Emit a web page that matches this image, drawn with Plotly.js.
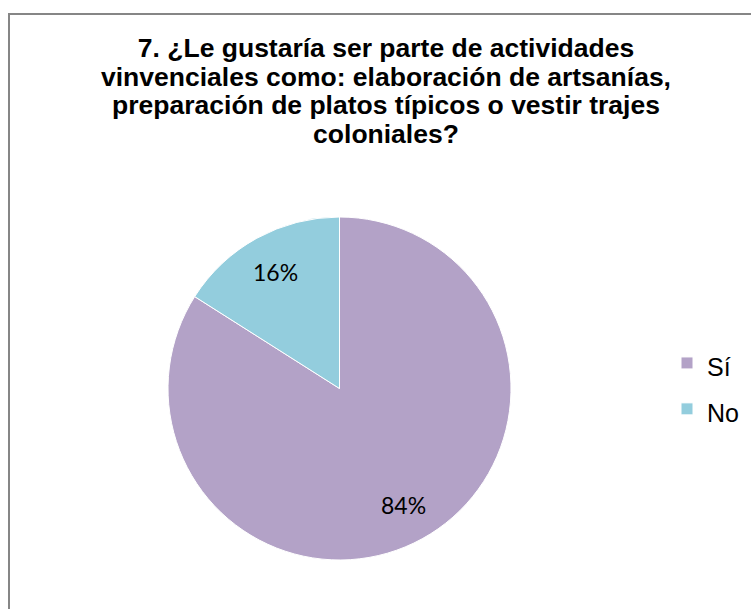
<!DOCTYPE html>
<html>
<head>
<meta charset="utf-8">
<script src="https://cdn.plot.ly/plotly-3.0.1.min.js"></script>
<style>
html,body{margin:0;padding:0;background:#fff;overflow:hidden;}
#chart{width:751px;height:609px;}
</style>
</head>
<body>
<div id="chart"></div>
<script>
const categories = ["Sí", "No"];
const values = [84, 16];
const colors = ["#B3A2C7", "#93CDDD"];
const titleLines = [
  "7. ¿Le gustaría ser parte de actividades",
  "vinvenciales como: elaboración de artsanías,",
  "preparación de platos típicos o vestir trajes",
  "coloniales?"
];

const W = 751, H = 609;
const px = v => v / W;
const py = v => 1 - v / H;

// pie geometry (pixels)
const pieLeft = 168, pieRight = 511, pieTop = 217, pieBottom = 560;
const cx = (pieLeft + pieRight) / 2, cy = (pieTop + pieBottom) / 2;
const R = (pieRight - pieLeft) / 2;

const total = values.reduce((a, b) => a + b, 0);
let cum = 0;
const labelAnnotations = values.map((v, i) => {
  const mid = (cum + v / 2) / total * 2 * Math.PI; // clockwise from 12 o'clock
  cum += v;
  const k = 0.775;
  const x = cx + k * R * Math.sin(mid);
  const y = cy - k * R * Math.cos(mid);
  return {
    xref: "paper", yref: "paper",
    x: px(x), y: py(y), xanchor: "center", yanchor: "middle",
    text: Math.round(v / total * 100) + "%",
    showarrow: false,
    font: { family: "Lato, 'Open Sans', sans-serif", size: 23, color: "#000000" }
  };
});

const legendLabels = categories.map(c => '<span style="font-size:25px">' + c + '</span>');

const data = [{
  type: "pie",
  labels: legendLabels,
  values: values,
  sort: false,
  direction: "clockwise",
  rotation: 0,
  marker: { colors: colors, line: { color: "#ffffff", width: 1 } },
  textinfo: "none",
  domain: { x: [px(pieLeft), px(pieRight)], y: [py(pieBottom), py(pieTop)] },
  hoverinfo: "none"
}];

const layout = {
  width: W, height: H,
  margin: { l: 0, r: 0, t: 0, b: 0 },
  paper_bgcolor: "#ffffff",
  plot_bgcolor: "#ffffff",
  title: {
    text: titleLines.map(l => '<span style="font-size:26.5px">' + l + '</span>').join("<br>"),
    font: { family: "'Liberation Sans', Arial, sans-serif", size: 22, color: "#000000", weight: "bold" },
    x: px(386), xanchor: "center",
    y: py(57), yanchor: "top",
    xref: "paper", yref: "paper"
  },
  showlegend: true,
  legend: {
    x: px(667), xanchor: "left",
    y: py(386), yanchor: "middle",
    font: { family: "'Liberation Sans', Arial, sans-serif", size: 33, color: "#000000" },
    bgcolor: "rgba(0,0,0,0)",
    itemwidth: 30
  },
  annotations: labelAnnotations,
  shapes: [
    { type: "line", xref: "paper", yref: "paper", x0: px(9), x1: px(9), y0: py(13), y1: -0.05, line: { color: "#868686", width: 2 } },
    { type: "line", xref: "paper", yref: "paper", x0: px(8), x1: 1.05, y0: py(14), y1: py(14), line: { color: "#868686", width: 2 } }
  ]
};

Plotly.newPlot("chart", data, layout, { staticPlot: true, displayModeBar: false });
</script>
</body>
</html>
